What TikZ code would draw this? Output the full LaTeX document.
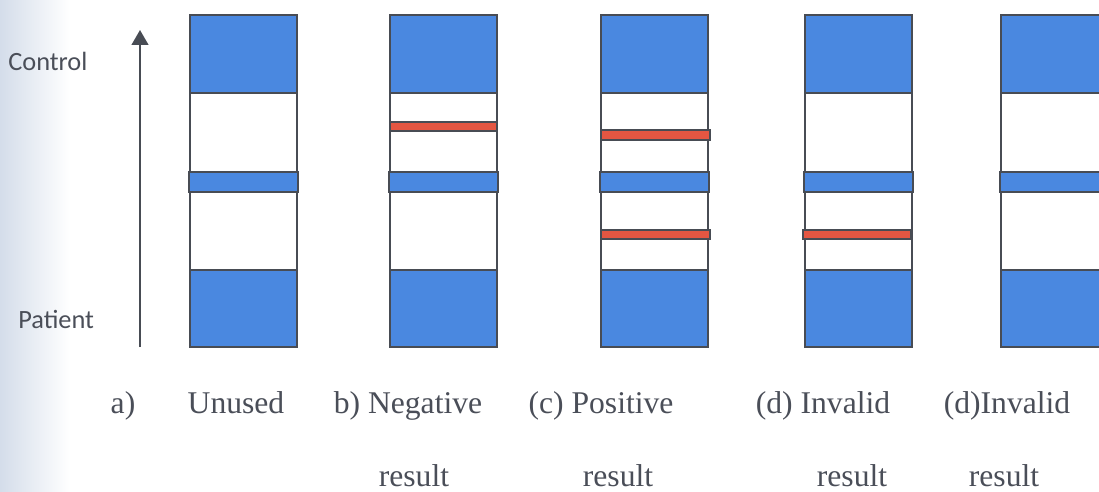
\documentclass[tikz,border=0pt]{standalone}
\usepackage{fontspec}
\setmainfont{Liberation Serif}
\newfontfamily\sidefont{Carlito}
\usetikzlibrary{arrows.meta, positioning}

\definecolor{stripblue}{RGB}{74,136,224}
\definecolor{stripred}{RGB}{228,86,66}
\definecolor{edgegray}{RGB}{72,76,84}
\definecolor{inkgray}{RGB}{74,78,88}
\definecolor{scanhaze}{RGB}{212,221,234}

\tikzset{
  window/.style={draw=edgegray, line width=1.4pt, fill=white},
  pad/.style={draw=edgegray, line width=1.4pt, fill=stripblue},
  redline/.style={draw=edgegray, line width=1.4pt, fill=stripred},
  caption/.style={anchor=base, text=inkgray, inner sep=0pt, font=\fontsize{18}{22}\selectfont},
  sidelabel/.style={anchor=base west, text=inkgray, inner sep=0pt, font=\sidefont\fontsize{15}{18}\selectfont},
  flowarrow/.style={draw=edgegray, line width=1.2pt, -{Triangle[width=9.5pt,length=8.5pt]}}
}

\begin{document}
\begin{tikzpicture}[x=0.02cm, y=-0.02cm]
\useasboundingbox (0,0) rectangle (1099,491);
\clip (0,0) rectangle (1099,491);
% paper tint on the left edge
\shade[left color=scanhaze, right color=white] (0,0) rectangle (70,491);

% direction of flow
\node[sidelabel] (control) at (8,70) {Control};
\node[sidelabel] (patient) at (18,328) {Patient};
\coordinate (flowstart) at (140,347);
\coordinate (flowend) at (140,30);
\draw[flowarrow] (flowstart) -- (flowend);

% the five strips: sample pads top and bottom, blue band in the middle
\foreach \l in {190,390,601,805,1001} {
  \draw[window] (\l,15) rectangle ++(107,332);
  \draw[pad] (\l,15) rectangle ++(107,78);
  \draw[pad] (\l,270) rectangle ++(107,77);
  \draw[pad] (\l-1,172) rectangle ++(109,20);
}

% red lines
\draw[redline] (390,122) rectangle (497,131);
\draw[redline] (601,130) rectangle (710,140);
\draw[redline] (601,230) rectangle (710,239);
\draw[redline] (803,230) rectangle (911,239);

% captions
\node[caption] (capa) at (123,413) {a)};
\node[caption] (capunused) at (236,413) {Unused};
\node[caption] (capb) at (408,413) {b) Negative};
\node[caption] (capc) at (601,413) {(c) Positive};
\node[caption] (capd) at (823,413) {(d) Invalid};
\node[caption] (cape) at (1007,413) {(d)Invalid};
\node[caption] (resb) at (414,486) {result};
\node[caption] (resc) at (618,486) {result};
\node[caption] (resd) at (852,486) {result};
\node[caption] (rese) at (1004,486) {result};
\end{tikzpicture}
\end{document}
